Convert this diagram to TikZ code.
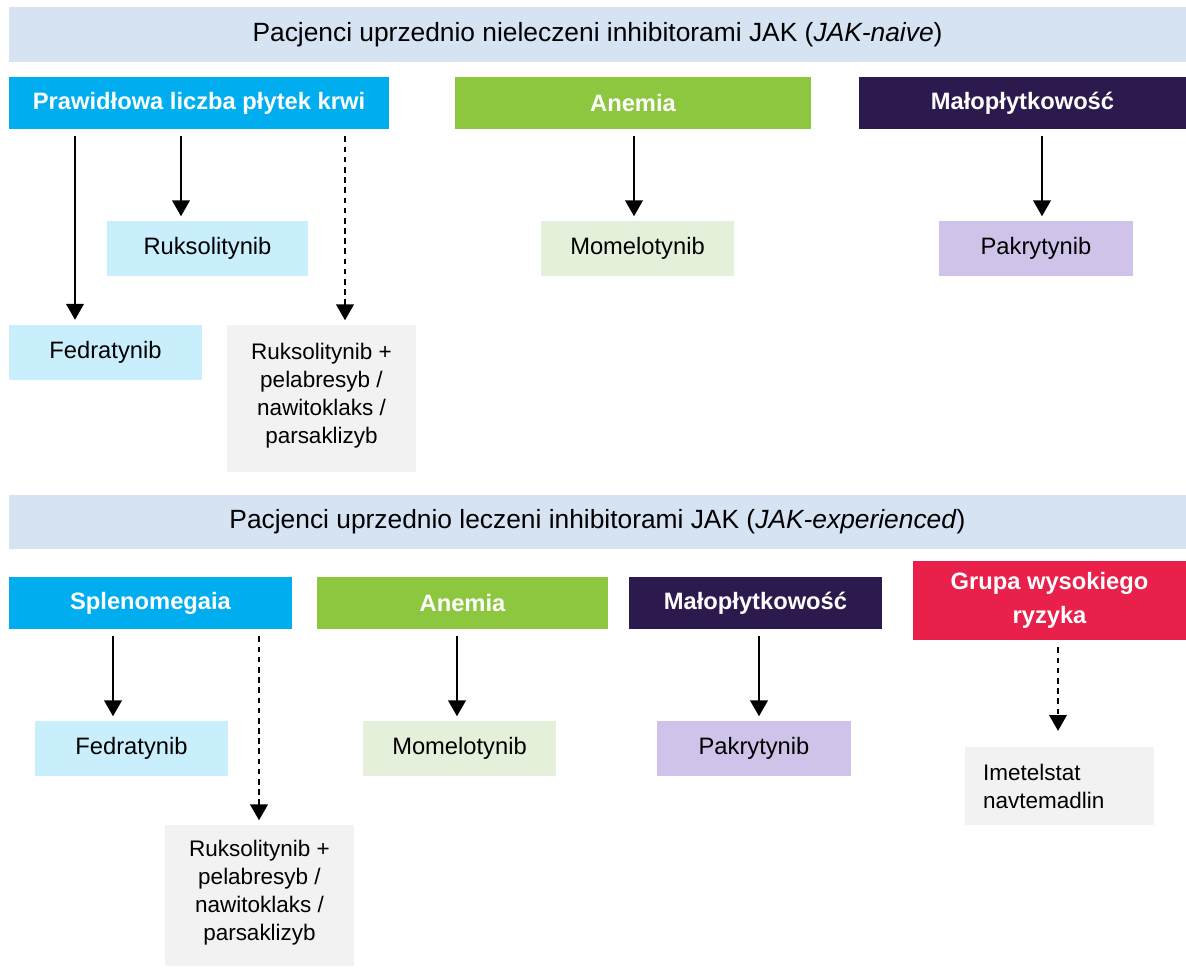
\documentclass[tikz,border=0pt]{standalone}
\usepackage{fontspec}
\setmainfont{Liberation Sans}
\usepackage{tikz}
\usetikzlibrary{positioning,arrows.meta}
\definecolor{hdrbg}{HTML}{D5E3F2}
\definecolor{cyanhead}{HTML}{00AEEF}
\definecolor{greenhead}{HTML}{8DC63F}
\definecolor{purplehead}{HTML}{2C1A4F}
\definecolor{redhead}{HTML}{E8204A}
\definecolor{cyanbox}{HTML}{C9EEFC}
\definecolor{greenbox}{HTML}{E4F0D9}
\definecolor{purplebox}{HTML}{CFC3EA}
\definecolor{graybox}{HTML}{F2F2F2}
\tikzset{hdr/.style={fill=hdrbg,minimum width=23.54cm,minimum height=1.09cm,inner sep=0pt,font=\fontsize{15}{18}\selectfont},}
\tikzset{group/.style={fill=#1,text=white,inner sep=0pt,minimum height=1.04cm,align=center,font=\fontsize{13.5}{19}\selectfont\bfseries},}
\tikzset{drug/.style={fill=#1,inner sep=0pt,minimum width=3.86cm,minimum height=1.1cm,align=center,font=\fontsize{13.5}{16}\selectfont},}
\tikzset{combo/.style={fill=graybox,inner sep=0pt,minimum width=3.78cm,align=center,font=\fontsize{12.8}{15.9}\selectfont},}
\tikzset{arr/.style={-{Triangle[width=10pt,length=9pt]},line width=1pt,shorten <=4pt,shorten >=2.5pt},}
\tikzset{darr/.style={arr,dash pattern=on 3.2pt off 2.6pt},}

\begin{document}
\begin{tikzpicture}[x=0.02cm,y=-0.02cm]
	\useasboundingbox (0,0) rectangle (1186,967);
	% JAK-naive
	\node[hdr] (naive) at (597.5,34.5) {Pacjenci uprzednio nieleczeni inhibitorami JAK (\textit{JAK-naive})};
	\node[group=cyanhead,minimum width=7.6cm] (normal) at (199,103) {Prawidłowa liczba płytek krwi};
	\node[group=greenhead,minimum width=7.12cm] (anem1) at (633,103) {Anemia};
	\node[group=purplehead,minimum width=6.54cm] (thromb1) at (1022.5,103) {Małopłytkowość};
	\node[drug=cyanbox,minimum width=4.02cm] (rux1) at (207.5,248.5) {Ruksolitynib};
	\node[drug=cyanbox] (fed1) at (105.5,352) {Fedratynib};
	\node[combo,minimum height=2.94cm] (combo1) at (321.5,398.5) {Ruksolitynib +\\ pelabresyb /\\ nawitoklaks /\\ parsaklizyb\\[-10pt]};
	\node[drug=greenbox] (mom1) at (637.5,248.5) {Momelotynib};
	\node[drug=purplebox,minimum width=3.88cm] (pak1) at (1036,248.5) {Pakrytynib};

	% JAK-experienced
	\node[hdr] (exp) at (597.5,522) {Pacjenci uprzednio leczeni inhibitorami JAK (\textit{JAK-experienced})};
	\node[group=cyanhead,minimum width=5.66cm] (splen) at (150.5,603) {Splenomegaia};
	\node[group=greenhead,minimum width=5.82cm] (anem2) at (462.5,603) {Anemia};
	\node[group=purplehead,minimum width=5.06cm] (thromb2) at (755.5,603) {Małopłytkowość};
	\node[group=redhead,minimum width=5.46cm,minimum height=1.58cm] (risk) at (1049.5,600.5) {Grupa wysokiego\\ ryzyka};
	\node[drug=cyanbox] (fed2) at (131.5,748.5) {Fedratynib};
	\node[combo,minimum height=2.82cm] (combo2) at (259.5,895.5) {Ruksolitynib +\\ pelabresyb /\\ nawitoklaks /\\ parsaklizyb\\[-10pt]};
	\node[drug=greenbox] (mom2) at (459.5,748.5) {Momelotynib};
	\node[drug=purplebox,minimum width=3.88cm] (pak2) at (754,748.5) {Pakrytynib};
	\node[combo,minimum height=1.56cm,text width=3.06cm,align=left] (imet) at (1059.5,786) {Imetelstat\\ navtemadlin};

	% arrow columns
	\coordinate (c1) at (75,0);
	\coordinate (c2) at (181,0);
	\coordinate (c3) at (345,0);
	\coordinate (c4) at (634,0);
	\coordinate (c5) at (1042,0);
	\coordinate (c6) at (113,0);
	\coordinate (c7) at (259,0);
	\coordinate (c8) at (457,0);
	\coordinate (c9) at (759,0);
	\coordinate (c10) at (1058,0);

	\draw[arr] (normal.south -| c1) -- (fed1.north -| c1);
	\draw[arr] (normal.south -| c2) -- (rux1.north -| c2);
	\draw[darr] (normal.south -| c3) -- (combo1.north -| c3);
	\draw[arr] (anem1.south -| c4) -- (mom1.north -| c4);
	\draw[arr] (thromb1.south -| c5) -- (pak1.north -| c5);
	\draw[arr] (splen.south -| c6) -- (fed2.north -| c6);
	\draw[darr] (splen.south -| c7) -- (combo2.north -| c7);
	\draw[arr] (anem2.south -| c8) -- (mom2.north -| c8);
	\draw[arr] (thromb2.south -| c9) -- (pak2.north -| c9);
	\draw[darr,shorten >=9pt] (risk.south -| c10) -- (imet.north -| c10);
\end{tikzpicture}
\end{document}
